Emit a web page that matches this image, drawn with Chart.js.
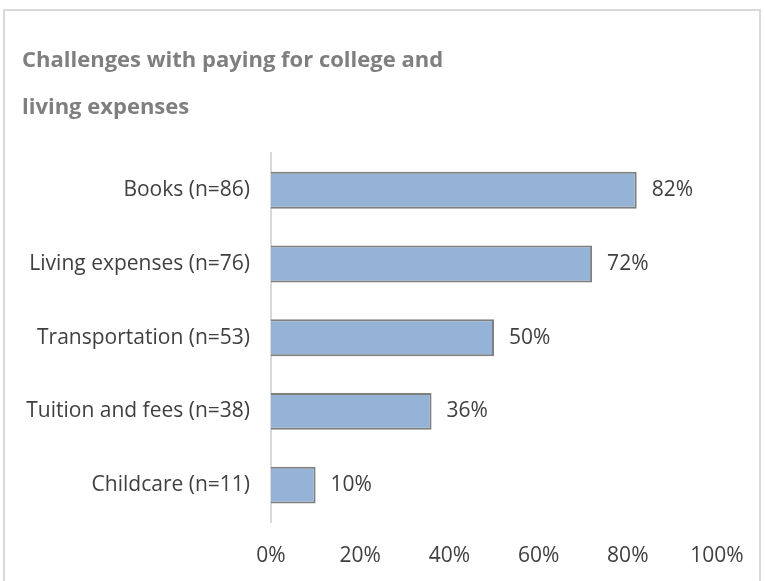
<!DOCTYPE html>
<html lang="en">
<head>
    <meta charset="UTF-8">
    <title>Challenges with paying for college</title>
    <script src="https://cdn.jsdelivr.net/npm/chart.js@4/dist/chart.umd.min.js"></script>
    <style>
        body { margin: 0; background: #fff; }
        #marco {
            position: absolute; left: 3px; top: 9px; width: 758px; height: 580px;
            border: 2px solid #d9d9d9; border-bottom: none; box-sizing: border-box;
        }
        #lienzo { position: absolute; left: 0; top: 0; }
    </style>
</head>
<body>
    <div id="marco"></div>
    <canvas id="lienzo" width="765" height="581"></canvas>

    <script>
        // datos
        const categorias = ["Books (n=86)", "Living expenses (n=76)", "Transportation (n=53)", "Tuition and fees (n=38)", "Childcare (n=11)"];
        const porcentajes = [82, 72, 50, 36, 10];
        const titulo = ["Challenges with paying for college and", "living expenses"];

        // etiquetas de valor al final de cada barra
        const etiquetas = {
            id: 'etiquetas',
            afterDatasetsDraw(chart) {
                const ctx = chart.ctx;
                const meta = chart.getDatasetMeta(0);
                ctx.save();
                ctx.font = '21px "Open Sans"';
                ctx.fillStyle = '#404040';
                ctx.textBaseline = 'middle';
                ctx.textAlign = 'left';
                meta.data.forEach((barra, i) => {
                    ctx.fillText(porcentajes[i] + '%', barra.x + 15, barra.y);
                });
                ctx.restore();
            }
        };

        new Chart(document.getElementById("lienzo"), {
            type: 'bar',
            data: {
                labels: categorias,
                datasets: [{
                    data: porcentajes,
                    backgroundColor: '#95b3d7',
                    borderColor: '#7f7f7f',
                    borderWidth: 2,
                    categoryPercentage: 1,
                    barPercentage: 0.5
                }]
            },
            options: {
                indexAxis: 'y',
                responsive: false,
                animation: false,
                layout: { padding: { left: 22, right: 48, top: 38, bottom: 0 } },
                plugins: {
                    legend: { display: false },
                    tooltip: { enabled: false },
                    title: {
                        display: true,
                        text: titulo,
                        align: 'start',
                        color: '#7f7f7f',
                        font: { family: '"Open Sans"', size: 22, weight: 'bold', lineHeight: 2.1 },
                        padding: { top: 0, bottom: 23 }
                    }
                },
                scales: {
                    x: {
                        min: 0,
                        max: 100,
                        ticks: {
                            stepSize: 20,
                            color: '#404040',
                            font: { family: '"Open Sans"', size: 21 },
                            padding: 21,
                            callback: v => v + '%'
                        },
                        grid: { display: false, drawTicks: false },
                        border: { display: false },
                        afterFit(escala) { escala.height = 59; }
                    },
                    y: {
                        ticks: {
                            color: '#404040',
                            font: { family: '"Open Sans"', size: 21 },
                            padding: 21
                        },
                        grid: { display: false, drawTicks: false },
                        border: { display: true, color: '#d9d9d9', width: 2 },
                        afterFit(escala) { escala.width = 249; }
                    }
                }
            },
            plugins: [etiquetas]
        });
    </script>
</body>
</html>
